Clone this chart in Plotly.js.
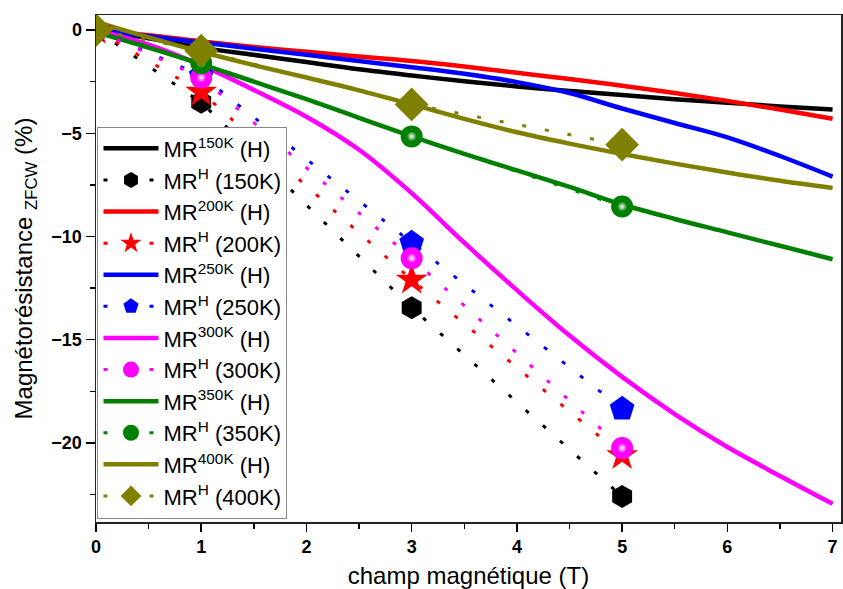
<!DOCTYPE html>
<html>
<head>
<meta charset="utf-8">
<script src="https://cdn.plot.ly/plotly-3.0.1.min.js"></script>
<style>html,body{margin:0;padding:0;background:#fff;}#chart{width:843px;height:589px;}</style>
</head>
<body>
<div id="chart"></div>
<script>
// Continuous MR(H) curves
const fieldT = [0,0.5,1,1.5,2,2.5,3,3.5,4,4.5,5,5.5,6,6.5,7];
const mr150K = [0,-0.4,-0.85,-1.2,-1.55,-1.9,-2.2,-2.48,-2.73,-2.95,-3.15,-3.35,-3.52,-3.7,-3.85];
const mr200K = [0,-0.25,-0.55,-0.82,-1.05,-1.28,-1.5,-1.77,-2.07,-2.37,-2.7,-3.05,-3.43,-3.85,-4.3];
const mr250K = [0,-0.3,-0.6,-0.9,-1.2,-1.5,-1.8,-2.12,-2.52,-3.05,-3.8,-4.5,-5.2,-6.1,-7.1];
const mr300K = [0,-0.7,-1.7,-2.9,-4.2,-5.8,-7.9,-10.3,-12.6,-14.8,-16.8,-18.6,-20.2,-21.6,-22.95];
const mr350K = [-0.1,-0.85,-1.65,-2.5,-3.35,-4.25,-5.15,-6.0,-6.8,-7.6,-8.45,-9.15,-9.8,-10.45,-11.1];
const mr400K = [0.4,-0.35,-1.05,-1.7,-2.3,-2.92,-3.6,-4.3,-4.95,-5.5,-6.0,-6.47,-6.9,-7.3,-7.65];

// MR^H(T) points
const fieldPts = [0,1,3,5];
const mrH150K = [0,-3.5,-13.45,-22.6];
const mrH200K = [0,-3.0,-12.1,-20.6];
const mrH250K = [0,-2.2,-10.3,-18.35];
const mrH300K = [0,-2.3,-11.05,-20.25];
const mrH350K = [0,-1.6,-5.15,-8.55];
const mrH400K = [0,-1.0,-3.6,-5.55];

const temps = ['150K','200K','250K','300K','350K','400K'];
const colors = ['#000000','#FF0000','#0000FF','#FF00FF','#008000','#808000'];
const curves = [mr150K,mr200K,mr250K,mr300K,mr350K,mr400K];
const points = [mrH150K,mrH200K,mrH250K,mrH300K,mrH350K,mrH400K];
const symbols = ['hexagon','star','pentagon','circle','circle','diamond'];
const sizes = [23,24,26,22,22,26];

const traces = [];
curves.forEach((c,i)=>{
  traces.push({
    x: fieldT, y: c, mode:'lines', type:'scatter',
    name: 'MR<sup>'+temps[i]+'</sup> (H)',
    line:{color:colors[i], width:4.5, shape:'spline', smoothing:1},
    legendrank: i*2+1
  });
});
points.forEach((p,i)=>{
  traces.push({
    x: fieldPts, y: p, mode:'lines+markers', type:'scatter',
    name: 'MR<sup>H</sup> ('+temps[i]+')',
    line:{color:colors[i], width:3, dash:'4px,19px'},
    marker:{symbol:symbols[i], size:sizes[i], color:colors[i], line:{width:0}},
    legendrank: i*2+2
  });
  if(symbols[i]==='circle'){
    // sphere highlight
    traces.push({
      x: fieldPts, y: p, mode:'markers', type:'scatter', showlegend:false, hoverinfo:'skip',
      marker:{symbol:'circle', size:10, color:colors[i], line:{width:0},
              gradient:{type:'radial', color:'#ffffff'}}
    });
  }
});

const font = 'Arial, "Liberation Sans", sans-serif';
const layout = {
  width:843, height:589,
  margin:{l:96, r:2, t:15, b:67},
  paper_bgcolor:'#fff', plot_bgcolor:'#fff',
  showlegend:true,
  font:{family:font, color:'#000'},
  xaxis:{
    range:[0,7.08], showgrid:false, zeroline:false,
    tickmode:'linear', tick0:0, dtick:1,
    ticks:'outside', ticklen:8, tickwidth:1.5, tickcolor:'#000',
    minor:{dtick:0.5, ticks:'outside', ticklen:5, tickwidth:1.5, tickcolor:'#000', showgrid:false},
    showline:true, linecolor:'#222', linewidth:1.5, mirror:true,
    tickfont:{family:font, size:18, weight:'bold', color:'#000'},
    title:{text:'champ magnétique (T)', font:{family:font, size:24, color:'#000'}, standoff:12}
  },
  yaxis:{
    range:[-23.83,0.73], showgrid:false, zeroline:false,
    tickmode:'linear', tick0:0, dtick:5,
    ticks:'outside', ticklen:9, tickwidth:1.5, tickcolor:'#000',
    minor:{dtick:2.5, ticks:'outside', ticklen:5, tickwidth:1.5, tickcolor:'#000', showgrid:false},
    showline:true, linecolor:'#222', linewidth:1.5, mirror:'ticks',
    tickfont:{family:font, size:18, weight:'bold', color:'#000'},
    title:{text:'Magnétorésistance <sub>ZFCW</sub> (%)', font:{family:font, size:24, color:'#000'}, standoff:12}
  },
  legend:{
    x:0.002, y:0.78, xanchor:'left', yanchor:'top',
    bgcolor:'#ffffff', bordercolor:'#888', borderwidth:1,
    font:{family:font, size:22, color:'#000'},
    itemwidth:55, tracegroupgap:0, itemsizing:'trace'
  }
};

Plotly.newPlot('chart', traces, layout, {displayModeBar:false, staticPlot:true});
</script>
</body>
</html>
